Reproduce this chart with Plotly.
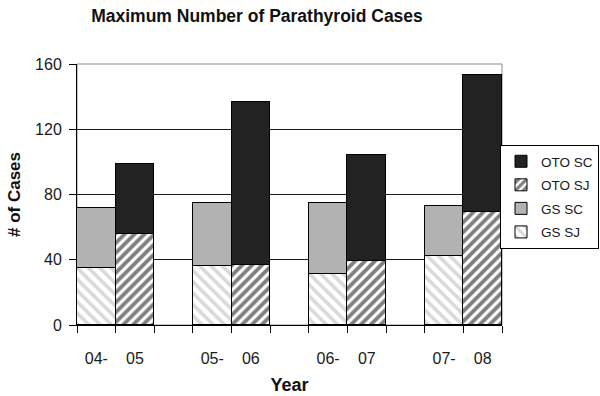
import plotly.graph_objects as go

years = ["04-05", "05-06", "06-07", "07-08"]
gs_sj = [35, 36, 31, 42]
gs_sc = [37, 39, 44, 31]
oto_sj = [56, 37, 39, 69]
oto_sc = [43, 100, 65, 84]
y_ticks = [0, 40, 80, 120, 160]

gs_x = [3 * i for i in range(len(years))]
oto_x = [3 * i + 1 for i in range(len(years))]
tick_vals, tick_text = [], []
for i, yr in enumerate(years):
    a, b = yr.split("-")
    tick_vals += [gs_x[i], oto_x[i]]
    tick_text += [a + "-", b]
n_slots = oto_x[-1] + 1
bound_vals = [k - 0.5 for k in range(n_slots + 1)]

FONT = "Liberation Sans, Arial, sans-serif"
edge = dict(color="#000000", width=1)

fig = go.Figure()
fig.add_bar(x=gs_x, y=gs_sj, name="GS SJ", width=1, legendgroup="gs_sj", legendrank=4,
            marker=dict(color="#ffffff", line=edge,
                        pattern=dict(shape="\\", fgcolor="#b4b4b4", bgcolor="#ffffff",
                                     size=8, solidity=0.45, fillmode="overlay")))
fig.add_bar(x=gs_x, y=gs_sc, name="GS SC", width=1, legendgroup="gs_sc", legendrank=3,
            marker=dict(color="#b2b2b2", line=edge))
fig.add_bar(x=oto_x, y=oto_sj, name="OTO SJ", width=1, legendgroup="oto_sj", legendrank=2,
            marker=dict(color="#ffffff", line=edge,
                        pattern=dict(shape="/", fgcolor="#000000", bgcolor="#ffffff",
                                     size=7, solidity=0.55, fillmode="overlay")))
fig.add_bar(x=oto_x, y=oto_sc, name="OTO SC", width=1, legendgroup="oto_sc", legendrank=1,
            marker=dict(color="#222222", line=edge))
# invisible helper so the label axis (x2) is drawn
fig.add_scatter(x=[tick_vals[0]], y=[0], xaxis="x2", yaxis="y", mode="markers",
                marker=dict(opacity=0), showlegend=False, hoverinfo="skip")

fig.update_layout(
    width=600, height=396,
    barmode="stack", bargap=0,
    paper_bgcolor="#ffffff", plot_bgcolor="#ffffff",
    margin=dict(l=77, r=98, t=64, b=71, autoexpand=False),
    font=dict(family=FONT, size=16, color="#1a1a1a"),
    title=dict(text="<b>Maximum Number of Parathyroid Cases</b>",
               x=257 / 600, xanchor="center", xref="container",
               y=1 - 16 / 396, yanchor="middle", yref="container",
               font=dict(family=FONT, size=17.5, color="#111111")),
    showlegend=True,
    legend=dict(x=(599 - 77) / 425, y=(325 - 145) / 261, xanchor="right", yanchor="top",
                traceorder="grouped", bordercolor="#000000", borderwidth=1,
                bgcolor="#ffffff", font=dict(family=FONT, size=13.5, color="#1a1a1a"),
                tracegroupgap=3, itemwidth=30),
    shapes=[dict(type="rect", xref="paper", yref="paper", x0=0, x1=1, y0=0, y1=1,
                 line=dict(color="#888888", width=1), layer="below")],
    xaxis=dict(range=[-0.5, n_slots - 0.5], tickmode="array", tickvals=bound_vals,
               ticktext=["" for _ in bound_vals], ticks="outside", ticklen=7,
               tickcolor="#000000", tickwidth=1,
               showline=True, linecolor="#000000", linewidth=1,
               showgrid=False, zeroline=False, fixedrange=True),
    xaxis2=dict(overlaying="x", side="bottom", anchor="y",
                range=[-0.5, n_slots - 0.5], tickmode="array", tickvals=tick_vals,
                ticktext=tick_text, ticks="", ticklabelstandoff=22,
                tickfont=dict(family=FONT, size=16, color="#1a1a1a"),
                showline=False, showgrid=False, zeroline=False, fixedrange=True,
                title=dict(text="<b>Year</b>", standoff=12,
                           font=dict(family=FONT, size=18, color="#111111"))),
    yaxis=dict(range=[0, 160], tickmode="array", tickvals=y_ticks,
               ticks="outside", ticklen=7, tickcolor="#000000", ticklabelstandoff=4,
               showline=True, linecolor="#000000", linewidth=1,
               showgrid=True, gridcolor="#1a1a1a", gridwidth=1, zeroline=False,
               title=dict(text="<b># of Cases</b>", standoff=10,
                          font=dict(family=FONT, size=17, color="#111111")),
               fixedrange=True),
)

fig.write_html("out.html", config={"displayModeBar": False},
               post_script="document.body.style.margin='0';")
